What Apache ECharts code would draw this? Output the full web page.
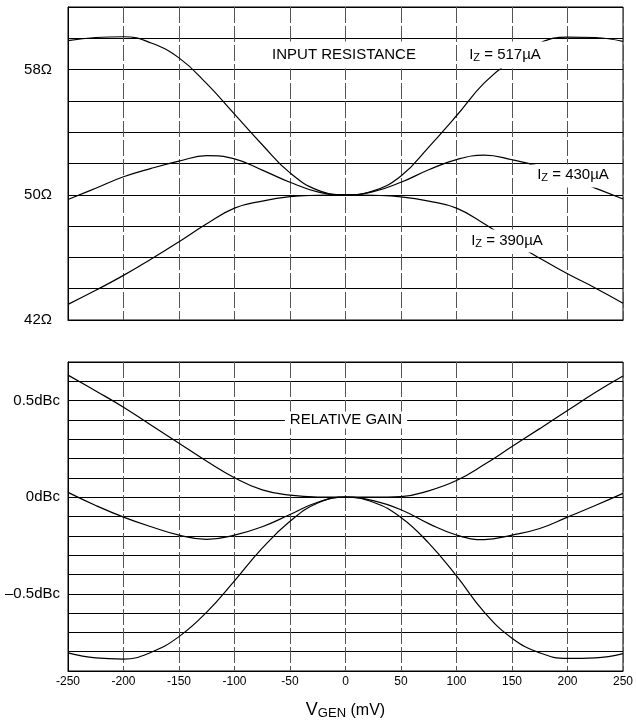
<!DOCTYPE html>
<html>
<head>
<meta charset="utf-8">
<script src="https://cdn.jsdelivr.net/npm/echarts@6/dist/echarts.min.js"></script>
<style>
html,body{margin:0;padding:0;background:#fff;}
#chart{width:636px;height:721px;}
</style>
</head>
<body>
<div id="chart"></div>
<script>
// V_GEN sample points (mV)
const vGen = [-250,-225,-200,-175,-150,-125,-100,-75,-50,-25,0,25,50,75,100,125,150,175,200,225,250];
// Input resistance (ohm)
const res517 = [59.85,60.05,60.1,59.7,58.75,57.1,55.15,53.2,51.4,50.3,50.0,50.25,51.2,53.05,55.05,57.15,58.6,59.7,60.08,60.05,59.8];
const res430 = [49.7,50.42,51.15,51.69,52.15,52.5,52.3,51.58,50.8,50.19,50.0,50.2,50.8,51.6,52.25,52.53,52.24,51.8,51.15,50.43,49.73];
const res390 = [43.0,43.9,44.85,45.9,47.0,48.15,49.15,49.6,49.88,49.97,50.0,49.97,49.87,49.6,49.15,48.15,47.0,45.95,44.95,44.05,43.07];
// Relative gain (dBc)
const gain517 = [0.632,0.55,0.466,0.372,0.279,0.186,0.101,0.038,0.011,0.001,0.0,0.0,0.003,0.033,0.086,0.169,0.262,0.355,0.449,0.542,0.627];
const gain430 = [0.025,-0.043,-0.103,-0.153,-0.196,-0.218,-0.196,-0.153,-0.09,-0.026,0.0,-0.018,-0.065,-0.137,-0.196,-0.22,-0.196,-0.162,-0.103,-0.043,0.02];
const gain390 = [-0.806,-0.832,-0.838,-0.803,-0.722,-0.595,-0.433,-0.264,-0.125,-0.03,0.0,-0.026,-0.105,-0.238,-0.408,-0.595,-0.73,-0.806,-0.835,-0.832,-0.81];
// Tick labels
const resTickLabels = [[42,'42Ω'],[50,'50Ω'],[58,'58Ω']];
const gainTickLabels = [[0.5,'0.5dBc'],[0,'0dBc'],[-0.5,'–0.5dBc']];

const FONT = '"Liberation Sans", Arial, Helvetica, sans-serif';
const pairs = arr => vGen.map((x,i)=>[x, arr[i]]);
const pick = list => v => { for(const [t,s] of list){ if(Math.abs(v-t)<1e-6) return s; } return ''; };

function lineSeries(data, xi, yi){
  return {type:'line', xAxisIndex:xi, yAxisIndex:yi, data:pairs(data), smooth:0.45,
    showSymbol:false, symbol:'none', lineStyle:{color:'#000', width:1.2}, z:3};
}
const vSplit = {show:true, lineStyle:{color:'#555', width:1, type:[16,3]}};
const hSplit = {show:true, lineStyle:{color:'#000', width:1}};

const chart = echarts.init(document.getElementById('chart'), null, {renderer:'canvas'});
chart.setOption({
  animation:false,
  backgroundColor:'#fff',
  grid:[
    {left:68, right:13, top:7, height:313, show:true, borderColor:'#000', borderWidth:1, containLabel:false},
    {left:68, right:13, top:362, height:315, show:true, borderColor:'#000', borderWidth:1, containLabel:false}
  ],
  xAxis:[
    {type:'value', gridIndex:0, min:-250, max:250, interval:50,
      axisLine:{show:true, onZero:false, lineStyle:{color:'#000'}}, axisTick:{show:false}, axisLabel:{show:false}, splitLine:vSplit},
    {type:'value', gridIndex:1, min:-250, max:250, interval:50,
      axisLine:{show:true, onZero:false, lineStyle:{color:'#000'}}, axisTick:{show:false},
      axisLabel:{show:true, color:'#000', fontSize:12, fontFamily:FONT, margin:5},
      splitLine:vSplit,
      name:'{v|V}{s|GEN}{p| (mV)}', nameLocation:'middle', nameGap:30,
      nameTextStyle:{rich:{
        v:{fontSize:18, fontFamily:FONT, color:'#000'},
        s:{fontSize:13, fontFamily:FONT, color:'#000', padding:[6,0,0,0]},
        p:{fontSize:16, fontFamily:FONT, color:'#000'}
      }}}
  ],
  yAxis:[
    {type:'value', gridIndex:0, min:42, max:62, interval:2,
      axisLine:{show:true, onZero:false, lineStyle:{color:'#000'}}, axisTick:{show:false},
      axisLabel:{show:true, color:'#000', fontSize:15, fontFamily:FONT, margin:16, formatter:pick(resTickLabels)},
      splitLine:hSplit},
    {type:'value', gridIndex:1, min:-0.9, max:0.7, interval:0.1,
      axisLine:{show:true, onZero:false, lineStyle:{color:'#000'}}, axisTick:{show:false},
      axisLabel:{show:true, color:'#000', fontSize:15, fontFamily:FONT, margin:8, formatter:pick(gainTickLabels)},
      splitLine:hSplit}
  ],
  series:[
    lineSeries(res517,0,0), lineSeries(res430,0,0), lineSeries(res390,0,0),
    lineSeries(gain517,1,1), lineSeries(gain430,1,1), lineSeries(gain390,1,1)
  ],
  graphic:[
    {type:'text', x:344, y:55, z:100, style:{text:'INPUT RESISTANCE', font:'15px '+FONT, fill:'#000',
      align:'center', verticalAlign:'middle', backgroundColor:'#fff', padding:[6,6]}},
    {type:'text', x:505, y:55, z:100, style:{text:'{a|I}{b|Z}{a| = 517µA}', align:'center', verticalAlign:'middle',
      backgroundColor:'#fff', padding:[5,8],
      rich:{a:{font:'15px '+FONT, fill:'#000'}, b:{font:'11px '+FONT, fill:'#000', padding:[6,0,0,0]}}}},
    {type:'text', x:573, y:176, z:100, style:{text:'{a|I}{b|Z}{a| = 430µA}', align:'center', verticalAlign:'middle',
      backgroundColor:'#fff', padding:[2,6,4,6],
      rich:{a:{font:'15px '+FONT, fill:'#000'}, b:{font:'11px '+FONT, fill:'#000', padding:[6,0,0,0]}}}},
    {type:'text', x:507, y:241, z:100, style:{text:'{a|I}{b|Z}{a| = 390µA}', align:'center', verticalAlign:'middle',
      backgroundColor:'#fff', padding:[3,6],
      rich:{a:{font:'15px '+FONT, fill:'#000'}, b:{font:'11px '+FONT, fill:'#000', padding:[6,0,0,0]}}}},
    {type:'text', x:346, y:420, z:100, style:{text:'RELATIVE GAIN', font:'15px '+FONT, fill:'#000',
      align:'center', verticalAlign:'middle', backgroundColor:'#fff', padding:[1,5]}}
  ]
});
</script>
</body>
</html>
